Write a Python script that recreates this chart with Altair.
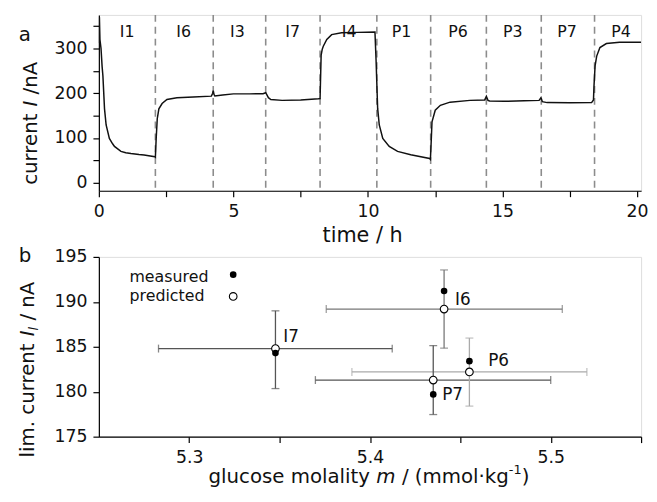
import altair as alt
import pandas as pd

# ---------------- data: panel a (current trace) ----------------
time_h = [0.0, 0.02, 0.04, 0.08, 0.12, 0.15, 0.21, 0.27, 0.39, 0.51, 0.58, 0.82, 1.0, 1.19, 1.49, 1.68, 2.08,
          2.1, 2.13, 2.17, 2.23, 2.35, 2.53, 2.9, 3.51, 4.18, 4.23, 4.25, 4.28, 4.31,
          4.6, 5.0, 5.6, 6.1, 6.2,
          6.3, 6.39, 6.81, 7.5, 8.16, 8.22,
          8.26, 8.3, 8.34, 8.47, 8.65, 9.02, 9.6, 10.26,
          10.3, 10.36, 10.42, 10.55, 10.79, 11.1, 11.59, 12.29, 12.32,
          12.35, 12.38, 12.5, 12.69, 13.05, 13.79, 14.34, 14.4, 14.46, 14.52,
          15.07, 15.8, 16.36, 16.43, 16.48,
          16.66, 17.5, 18.31, 18.38,
          18.4, 18.44, 18.5, 18.62, 18.86, 19.35, 20.15]
current_nA = [312, 370, 320, 300, 260, 239, 165, 129, 99, 87, 81, 70, 67, 65, 63, 62, 58,
              57, 99, 143, 165, 177, 186, 190, 191.5, 193.5, 200, 206, 197, 194,
              196, 198.5, 198.5, 199, 201,
              190, 186, 184, 185, 187.5, 188,
              285, 298, 305, 320, 331, 335, 336, 337,
              276, 166, 129, 99, 81, 70, 62.5, 54, 52,
              92, 136, 162, 173, 180, 184, 185, 193, 184, 182.5,
              182, 183, 184, 190, 181,
              179, 178.5, 179, 185,
              217, 261, 283, 302, 311, 314, 314]
boundaries_h = [2.1, 4.25, 6.2, 8.22, 10.33, 12.33, 14.4, 16.44, 18.42]
segment_labels = ["I1", "I6", "I3", "I7", "I4", "P1", "P6", "P3", "P7", "P4"]
segment_label_t = [1.05, 3.15, 5.15, 7.2, 9.3, 11.25, 13.35, 15.38, 17.4, 19.4]

# ---------------- data: panel b ----------------
samples = ["I7", "I6", "P6", "P7"]
molality = [5.3477, 5.441, 5.455, 5.435]
current_pred = [184.8, 189.2, 182.2, 181.3]
current_meas = [184.3, 191.2, 183.4, 179.7]
molality_lo = [5.283, 5.3758, 5.39, 5.3698]
molality_hi = [5.4123, 5.5064, 5.52, 5.50]
current_lo = [180.35, 184.85, 178.4, 177.46]
current_hi = [189.0, 193.55, 185.97, 185.13]

# ---------------- styling ----------------
FONT = "DejaVu Sans"
TXT = "#111111"
W1, H1 = 549, 178
W2, H2 = 549, 182
vbar_colors = ["#666666", "#9a9a9a", "#555555", "#8a8a8a"]
hbar_colors = ["#555555", "#777777", "#aaaaaa", "#555555"]
label_dx = [8, 11, 19, 9]
label_dy = [-7, -4.5, -6.5, 20]

CW = {' ': 318, 'a': 613, 'b': 635, 'c': 550, 'd': 635, 'e': 615, 'g': 635, 'h': 634, 'i': 278, 'k': 579,
      'l': 278, 'm': 974, 'n': 634, 'o': 612, 'r': 411, 's': 521, 't': 392, 'u': 634, 'y': 592, 'A': 684,
      'I': 295, '/': 337, '(': 390, ')': 390, '.': 318, '·': 318, '-': 361, '1': 636}


def tw(s, fs):
    return sum(CW.get(c, 600) for c in s) / 1000.0 * fs


one = pd.DataFrame({"k": [0]})


def txt(s, x, y, fs, italic=False, angle=0, align="left"):
    kw = dict(text=s, align=align, baseline="alphabetic", fontSize=fs, font=FONT, color=TXT,
              fontStyle="italic" if italic else "normal")
    if angle:
        kw["angle"] = angle
    return alt.Chart(one).mark_text(**kw).encode(x=alt.value(x), y=alt.value(y))


def hpieces(pieces, x0, y0):
    out = []
    x = x0
    for s, fs, it, dy in pieces:
        core = s.strip(" ")
        lead = len(s) - len(s.lstrip(" "))
        out.append(txt(core, x + lead * CW[' '] / 1000.0 * fs, y0 + dy, fs, it))
        x += tw(s, fs)
    return out


def vpieces(pieces, x0, y0):
    out = []
    y = y0
    for s, fs, it, dx in pieces:
        core = s.strip(" ")
        lead = len(s) - len(s.lstrip(" "))
        out.append(txt(core, x0 + dx, y - lead * CW[' '] / 1000.0 * fs, fs, it, angle=270))
        y -= tw(s, fs)
    return out


def axis(values, expr, fmt=None):
    kw = dict(values=values, labelExpr=expr, title=None, grid=False, tickSize=6, tickWidth=1.2,
              tickColor="black", domainColor="black", domainWidth=1.2, labelFont=FONT,
              labelFontSize=17.5, labelColor=TXT, labelPadding=6, labelFlush=False, labelOverlap=False)
    if fmt:
        kw["format"] = fmt
    return alt.Axis(**kw)


# ---------------- panel a ----------------
trace = pd.DataFrame({"t": time_h, "I": current_nA})
xs1 = alt.Scale(domain=[0, 20.15], nice=False, zero=False)
ys1 = alt.Scale(domain=[-18, 375], nice=False, zero=False)
xa1 = axis([0, 2.5, 5, 7.5, 10, 12.5, 15, 17.5, 20], "datum.value % 5 === 0 ? datum.label : ''")
ya1 = axis([0, 50, 100, 150, 200, 250, 300, 350], "datum.value % 100 === 0 ? datum.label : ''")

line = alt.Chart(trace).mark_line(color="#111111", strokeWidth=1.5, clip=True).encode(
    x=alt.X("t:Q", scale=xs1, axis=xa1), y=alt.Y("I:Q", scale=ys1, axis=ya1))
rules = alt.Chart(pd.DataFrame({"b": boundaries_h})).mark_rule(
    color="#8c8c8c", strokeWidth=1.6, strokeDash=[7, 5]).encode(x=alt.X("b:Q", scale=xs1))
seg = alt.Chart(pd.DataFrame({"t": segment_label_t, "lab": segment_labels})).mark_text(
    font=FONT, fontSize=16, color=TXT, baseline="alphabetic").encode(
    x=alt.X("t:Q", scale=xs1), y=alt.value(22.5), text="lab:N")

top_layers = [rules, line, seg, txt("a", -81, 26.7, 20)]
top_layers += vpieces([("current ", 20, False, 0), ("I", 20, True, 0), (" /nA", 20, False, 0)], -62.5, 172)
top_layers.append(txt("time / h", 267, 230, 21, align="center"))
top = alt.layer(*top_layers).properties(width=W1, height=H1)

# ---------------- panel b ----------------
pts = pd.DataFrame({"s": samples, "m": molality, "pred": current_pred, "meas": current_meas,
                    "mlo": molality_lo, "mhi": molality_hi, "clo": current_lo, "chi": current_hi})
xs2 = alt.Scale(domain=[5.25, 5.55], nice=False, zero=False)
ys2 = alt.Scale(domain=[175, 195], nice=False, zero=False)
xa2 = axis([5.3, 5.35, 5.4, 5.45, 5.5, 5.55],
           "(datum.label === '5.3' || datum.label === '5.4' || datum.label === '5.5') ? datum.label : ''",
           fmt=".2~f")
ya2 = axis([175, 177.5, 180, 182.5, 185, 187.5, 190, 192.5, 195],
           "datum.value % 5 === 0 ? datum.label : ''")
vcol = alt.Color("s:N", scale=alt.Scale(domain=samples, range=vbar_colors), legend=None)
hcol = alt.Color("s:N", scale=alt.Scale(domain=samples, range=hbar_colors), legend=None)

base = alt.Chart(pts)
hbar = base.mark_rule(strokeWidth=1.3).encode(
    x=alt.X("mlo:Q", scale=xs2, axis=xa2), x2="mhi:Q", y=alt.Y("pred:Q", scale=ys2, axis=ya2), color=hcol)
vbar = base.mark_rule(strokeWidth=1.3).encode(
    x=alt.X("m:Q", scale=xs2), y=alt.Y("clo:Q", scale=ys2), y2="chi:Q", color=vcol)
hcap_lo = base.mark_tick(orient="vertical", size=8, thickness=1.3).encode(
    x=alt.X("mlo:Q", scale=xs2), y=alt.Y("pred:Q", scale=ys2), color=hcol)
hcap_hi = base.mark_tick(orient="vertical", size=8, thickness=1.3).encode(
    x=alt.X("mhi:Q", scale=xs2), y=alt.Y("pred:Q", scale=ys2), color=hcol)
vcap_lo = base.mark_tick(orient="horizontal", size=8, thickness=1.3).encode(
    x=alt.X("m:Q", scale=xs2), y=alt.Y("clo:Q", scale=ys2), color=vcol)
vcap_hi = base.mark_tick(orient="horizontal", size=8, thickness=1.3).encode(
    x=alt.X("m:Q", scale=xs2), y=alt.Y("chi:Q", scale=ys2), color=vcol)
pred = base.mark_point(filled=True, fill="white", stroke="black", strokeWidth=1.1, size=60, opacity=1).encode(
    x=alt.X("m:Q", scale=xs2), y=alt.Y("pred:Q", scale=ys2))
meas = base.mark_point(filled=True, color="black", size=45, opacity=1).encode(
    x=alt.X("m:Q", scale=xs2), y=alt.Y("meas:Q", scale=ys2))

labs = []
for i, s in enumerate(samples):
    labs.append(alt.Chart(pts[pts.s == s]).mark_text(
        font=FONT, fontSize=17, color=TXT, align="left", baseline="alphabetic",
        dx=label_dx[i], dy=label_dy[i]).encode(
        x=alt.X("m:Q", scale=xs2), y=alt.Y("pred:Q", scale=ys2), text="s:N"))

leg = [
    txt("measured", 31, 25, 16),
    txt("predicted", 31, 45, 16),
    alt.Chart(one).mark_point(filled=True, color="black", size=45, opacity=1).encode(
        x=alt.value(136), y=alt.value(18)),
    alt.Chart(one).mark_point(filled=True, fill="white", stroke="black", strokeWidth=1.1, size=60,
                              opacity=1).encode(x=alt.value(136), y=alt.value(40)),
]

bot_layers = [hbar, vbar, hcap_lo, hcap_hi, vcap_lo, vcap_hi, pred, meas] + labs + leg
bot_layers.append(txt("b", -81, 5, 20))
bot_layers += vpieces([("lim. current ", 20, False, 0), ("I", 20, True, 0), ("l", 13, True, 4),
                       (" / nA", 20, False, 0)], -66, 203)
bot_layers += hpieces([("glucose molality ", 20, False, 0), ("m", 20, True, 0),
                       (" / (mmol·kg", 20, False, 0), ("-1", 13, False, -9), (")", 20, False, 0)],
                      111, 229)
bottom = alt.layer(*bot_layers).properties(width=W2, height=H2)

chart = alt.vconcat(top, bottom, spacing=67, bounds="flush").properties(
    padding={"left": 9, "top": 2, "right": 0, "bottom": 0}
).configure_view(stroke="black", strokeWidth=1.2).configure(background="white")

chart.save("out.html", embed_options={"renderer": "svg", "actions": False})
